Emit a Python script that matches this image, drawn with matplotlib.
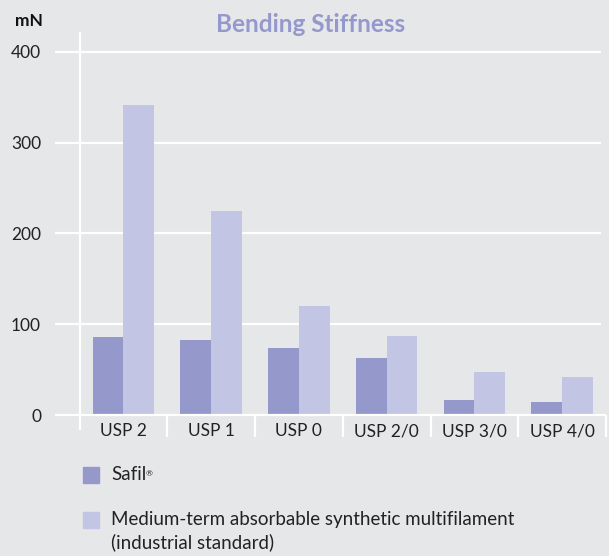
import matplotlib
matplotlib.use("Agg")
import matplotlib.pyplot as plt
from matplotlib.patches import Rectangle
import numpy as np

categories = ["USP 2", "USP 1", "USP 0", "USP 2/0", "USP 3/0", "USP 4/0"]
safil = [86, 83, 74, 63, 17, 14]
standard = [342, 225, 120, 87, 47, 42]
yticks = [0, 100, 200, 300, 400]
series_names = ["Safil", "Medium-term absorbable synthetic multifilament\n(industrial standard)"]
title = "Bending Stiffness"
unit = "mN"

BG = "#e6e7e9"
DARK = "#9598cb"
LIGHT = "#c2c5e4"
TITLE_C = "#9598cc"
FONT = ["Lato", "DejaVu Sans"]
plt.rcParams["font.family"] = FONT

W, H = 609, 556
fig = plt.figure(figsize=(W / 100, H / 100), dpi=100, facecolor=BG)

def fx(px):
    return px / W

def fy(py):
    return 1 - py / H

left_px, right_px, top_px, bot_px = 55, 606, 32, 415
ax = fig.add_axes([fx(left_px), fy(bot_px), fx(right_px) - fx(left_px), fy(top_px) - fy(bot_px)])
ax.set_facecolor(BG)
for s in ax.spines.values():
    s.set_visible(False)

ymax = 422
ax.set_ylim(0, ymax)
ax.set_xlim(-0.78, 5.5)

x = np.arange(len(categories))
bw = 0.35
ax.bar(x - bw / 2, safil, bw, color=DARK, zorder=3)
ax.bar(x + bw / 2, standard, bw, color=LIGHT, zorder=3)

lw = 1.6
for t in yticks[1:]:
    ax.plot([-0.78, 5.44], [t, t], color="white", lw=lw, zorder=1, solid_capstyle="butt")
ax.plot([-0.78, 5.5], [0, 0], color="white", lw=lw, zorder=4, solid_capstyle="butt", clip_on=False)
ax.plot([-0.5, -0.5], [ymax, -17], color="white", lw=lw, zorder=4, clip_on=False, solid_capstyle="butt")
for d in np.arange(0.5, len(categories) + 0.5, 1):
    ax.plot([d, d], [0, -24], color="white", lw=lw, zorder=4, clip_on=False, solid_capstyle="butt")

ax.set_xticks(x)
ax.set_xticklabels(categories, fontsize=12.5, color="#222222")
ax.set_yticks(yticks)
ax.set_yticklabels([str(t) for t in yticks], fontsize=12.5, color="#222222")
ax.tick_params(axis="both", length=0)
ax.tick_params(axis="x", pad=6)
ax.tick_params(axis="y", pad=10)

fig.text(fx(29), fy(21), unit, fontsize=12.5, fontweight="bold", color="#111111", ha="center", va="center")
fig.text(fx(311), fy(25), title, fontsize=17.5, fontweight="bold", color=TITLE_C, ha="center", va="center")

# legend
sq = 16
fig.add_artist(Rectangle((fx(83), fy(483)), sq / W, sq / H, transform=fig.transFigure, color=DARK))
fig.add_artist(Rectangle((fx(83), fy(528)), sq / W, sq / H, transform=fig.transFigure, color=LIGHT))
t1 = fig.text(fx(111), fy(475), series_names[0], fontsize=13.5, color="#222222", ha="left", va="center")
fig.canvas.draw()
bb = t1.get_window_extent(renderer=fig.canvas.get_renderer())
fig.text((bb.x1 - 0.5) / W, (bb.y1 - 4) / H, "\u00ae", fontsize=6, color="#222222", ha="left", va="top")
fig.text(fx(111), fy(511), series_names[1], fontsize=13.5, color="#222222", ha="left", va="top", linespacing=1.38)

fig.savefig("out.png", dpi=100, facecolor=BG)
